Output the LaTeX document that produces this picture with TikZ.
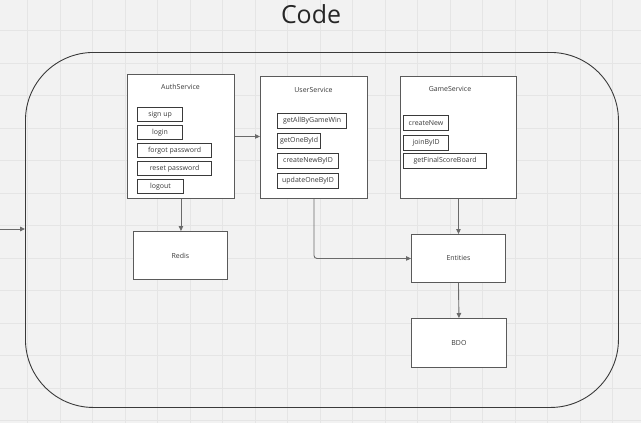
\documentclass[tikz,border=0pt]{standalone}
\usepackage{fontspec}
\setmainfont{Open Sans}
\usetikzlibrary{arrows.meta}

\definecolor{paper}{HTML}{F2F2F2}
\definecolor{gridc}{HTML}{E5E5E5}
\definecolor{boxline}{HTML}{5A5A5A}
\definecolor{ink}{HTML}{3A3A3A}
\definecolor{wire}{HTML}{6A6A6A}

\tikzset{
  service/.style={draw=boxline,fill=white,line width=0.9bp,anchor=north west,inner sep=0pt},
  method/.style={draw=ink,fill=white,line width=1.1bp,anchor=north west,inner sep=0pt,
                 minimum height=14bp,text=ink,font=\fontsize{7}{8}\selectfont},
  caption/.style={text=ink,font=\fontsize{7}{8}\selectfont},
  wire/.style={draw=wire,line width=0.9bp,-{Triangle[length=5bp,width=4.5bp]}}
}

\begin{document}
\begin{tikzpicture}[x=1bp,y=-1bp]
  \useasboundingbox (0,0) rectangle (641,423);
  \fill[paper] (0,0) rectangle (641,423);
  \begin{scope}
    \clip (0,0) rectangle (641,423);
    \foreach \i in {0,...,20} \draw[gridc,line width=1bp] (-5+32.5*\i,0) -- (-5+32.5*\i,423);
    \foreach \j in {0,...,13} \draw[gridc,line width=1bp] (0,-2+32.5*\j) -- (641,-2+32.5*\j);
  \end{scope}

  \node[text=black!85,font=\fontsize{25}{30}\selectfont] (title) at (311,14) {Code};
  \node[draw=ink,line width=0.9bp,rounded corners=68bp,anchor=north west,
        minimum width=593bp,minimum height=355bp] (code) at (25,52) {};

  % services
  \node[service,minimum width=107bp,minimum height=124bp] (auth) at (127,74) {};
  \node[service,minimum width=107bp,minimum height=122bp] (user) at (260,76) {};
  \node[service,minimum width=116bp,minimum height=122bp] (game) at (400,76) {};
  \node[caption] (authlbl) at (180.5,87)  {AuthService};
  \node[caption] (userlbl) at (313.5,89.5) {UserService};
  \node[caption] (gamelbl) at (450,89)    {GameService};

  \node[method,minimum width=45bp] (signup) at (137,107) {sign up};
  \node[method,minimum width=45bp] (login)  at (137,125) {login};
  \node[method,minimum width=74bp] (forgot) at (137,143) {forgot password};
  \node[method,minimum width=74bp] (reset)  at (137,161) {reset password};
  \node[method,minimum width=46bp] (logout) at (137,179) {logout};

  \node[method,minimum width=69bp,minimum height=15bp] (allwin)  at (277,113) {getAllByGameWin};
  \node[method,minimum width=43bp,minimum height=15bp] (oneid)   at (277,133) {getOneById};
  \node[method,minimum width=61bp,minimum height=15bp] (newid)   at (277,153) {createNewByID};
  \node[method,minimum width=61bp,minimum height=15bp] (updid)   at (277,173) {updateOneByID};

  \node[method,minimum width=45bp,minimum height=15bp] (newgame) at (403,115) {createNew};
  \node[method,minimum width=45bp,minimum height=15bp] (joinid)  at (403,135) {joinByID};
  \node[method,minimum width=83bp,minimum height=15bp] (board)   at (403,153) {getFinalScoreBoard};

  % stores
  \node[service,minimum width=94bp,minimum height=48bp,caption] (redis)    at (133,231) {Redis};
  \node[service,minimum width=94bp,minimum height=48bp,caption] (entities) at (411,234) {Entities};
  \node[service,minimum width=95bp,minimum height=49bp,caption] (bdo)      at (411,318) {BDO};

  \coordinate (entry) at (0,229);

  \draw[wire] (entry) -- (entry -| code.west);
  \draw[wire] (auth.east) -- (auth.east -| user.west);
  \draw[wire] (auth.south) -- (auth.south |- redis.north);
  \draw[wire] (game.south) -- (entities.north);
  \draw[wire] (entities.south) -- (bdo.north);
  \draw[wire,rounded corners=3bp] (user.south) |- (entities.west);
\end{tikzpicture}
\end{document}
